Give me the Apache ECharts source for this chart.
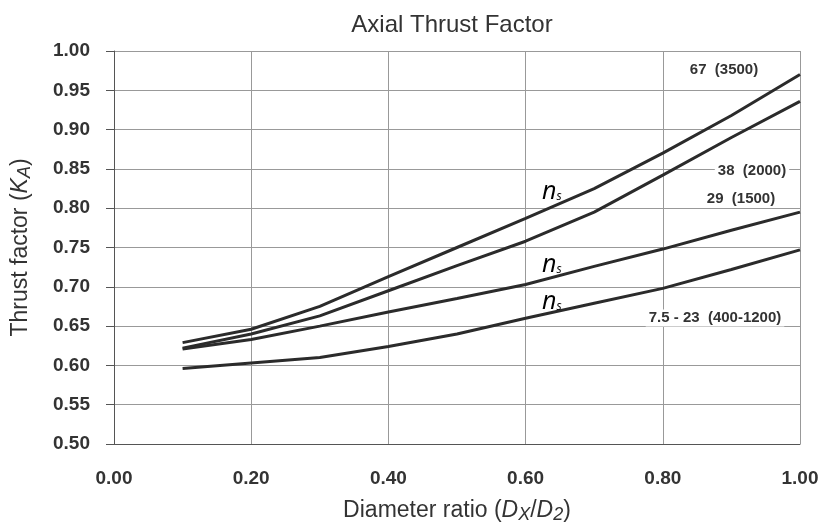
<!DOCTYPE html>
<html><head><meta charset="utf-8">
<script src="https://cdn.jsdelivr.net/npm/echarts@6/dist/echarts.min.js"></script>
<style>html,body{margin:0;padding:0;background:#fff}#c{width:818px;height:531px}</style>
</head><body><div id="c"></div>
<script>
const xValues = [0.1, 0.2, 0.3, 0.4, 0.5, 0.6, 0.7, 0.8, 0.9, 1.0];
const ns67 = [0.629, 0.646, 0.675, 0.713, 0.750, 0.787, 0.825, 0.870, 0.918, 0.970];
const ns38 = [0.622, 0.640, 0.663, 0.695, 0.727, 0.758, 0.795, 0.842, 0.890, 0.936];
const ns29 = [0.621, 0.633, 0.650, 0.668, 0.685, 0.703, 0.726, 0.748, 0.772, 0.795];
const nsLow = [0.596, 0.603, 0.610, 0.624, 0.640, 0.660, 0.679, 0.698, 0.722, 0.747];
const seriesNames = ['67  (3500)', '38  (2000)', '29  (1500)', '7.5 - 23  (400-1200)'];
const xTicks = [0, 0.2, 0.4, 0.6, 0.8, 1.0];
const yTicks = [0.5, 0.55, 0.6, 0.65, 0.7, 0.75, 0.8, 0.85, 0.9, 0.95, 1.0];

const chart = echarts.init(document.getElementById('c'));
const mk = (arr) => xValues.map((x, i) => [x, arr[i]]);
const lineStyle = {color: '#2b2b2b', width: 3};
const font = 'Liberation Sans, Arial, sans-serif';
const nsRich = {
  n: {fontFamily: '"Open Sans", sans-serif', fontStyle: 'italic', fontSize: 25, color: '#111'},
  s: {fontFamily: '"Open Sans", sans-serif', fontStyle: 'italic', fontSize: 12, color: '#111', padding: [10, 0, 0, 0]}
};
const nameRich = {
  n: {fontFamily: font, fontSize: 23, color: '#333'},
  i: {fontFamily: font, fontSize: 23, fontStyle: 'italic', color: '#333'},
  s: {fontFamily: font, fontSize: 18, fontStyle: 'italic', color: '#333', padding: [9, 0, 0, 0]}
};

chart.setOption({
  animation: false,
  title: {text: 'Axial Thrust Factor', left: 447, top: 8, textAlign: 'center',
    textStyle: {fontFamily: font, fontSize: 24, fontWeight: 'normal', color: '#333'}},
  grid: {left: 114, right: 18, top: 51, bottom: 87, outerBoundsMode: 'none', containLabel: false},
  xAxis: {type: 'value', min: 0, max: 1, interval: 0.2,
    axisLine: {show: true, lineStyle: {color: '#555', width: 1}},
    axisTick: {show: false},
    splitLine: {show: true, lineStyle: {color: '#999', width: 1}},
    axisLabel: {margin: 25, fontFamily: font, fontSize: 19, fontWeight: 'bold', color: '#333',
      formatter: v => v.toFixed(2)},
    name: '{n|Diameter ratio (}{i|D}{s|X}{n|/}{i|D}{s|2}{n|)}', nameLocation: 'middle', nameGap: 53,
    nameTextStyle: {rich: nameRich}
  },
  yAxis: {type: 'value', min: 0.5, max: 1.0, interval: 0.05,
    axisLine: {show: true, lineStyle: {color: '#555', width: 1}},
    axisTick: {show: true, length: 8, lineStyle: {color: '#555'}},
    splitLine: {show: true, lineStyle: {color: '#999', width: 1}},
    axisLabel: {margin: 24, fontFamily: font, fontSize: 19, fontWeight: 'bold', color: '#333',
      formatter: v => v.toFixed(2)},
    name: '{n|Thrust factor (}{i|K}{s|A}{n|)}', nameLocation: 'middle', nameGap: 80,
    nameTextStyle: {rich: nameRich}
  },
  series: [
    {name: seriesNames[0], type: 'line', data: mk(ns67), showSymbol: false, lineStyle},
    {name: seriesNames[1], type: 'line', data: mk(ns38), showSymbol: false, lineStyle},
    {name: seriesNames[2], type: 'line', data: mk(ns29), showSymbol: false, lineStyle},
    {name: seriesNames[3], type: 'line', data: mk(nsLow), showSymbol: false, lineStyle}
  ],
  graphic: [
    {type: 'text', z: 100, x: 724, y: 70, style: {text: seriesNames[0], font: 'bold 15px ' + font, fill: '#333', align: 'center', verticalAlign: 'middle', backgroundColor: '#fff'}},
    {type: 'text', z: 100, x: 752, y: 171, style: {text: seriesNames[1], font: 'bold 15px ' + font, fill: '#333', align: 'center', verticalAlign: 'middle', backgroundColor: '#fff', padding: [1, 3]}},
    {type: 'text', z: 100, x: 741, y: 199, style: {text: seriesNames[2], font: 'bold 15px ' + font, fill: '#333', align: 'center', verticalAlign: 'middle', backgroundColor: '#fff'}},
    {type: 'text', z: 100, x: 715, y: 318, style: {text: seriesNames[3], font: 'bold 15px ' + font, fill: '#333', align: 'center', verticalAlign: 'middle', backgroundColor: '#fff', padding: [1, 3]}},
    {type: 'text', z: 100, x: 542, y: 192, style: {text: '{n|n}{s|s}', verticalAlign: 'middle', rich: nsRich}},
    {type: 'text', z: 100, x: 542, y: 265, style: {text: '{n|n}{s|s}', verticalAlign: 'middle', rich: nsRich}},
    {type: 'text', z: 100, x: 542, y: 302, style: {text: '{n|n}{s|s}', verticalAlign: 'middle', rich: nsRich}}
  ]
});
</script></body></html>
